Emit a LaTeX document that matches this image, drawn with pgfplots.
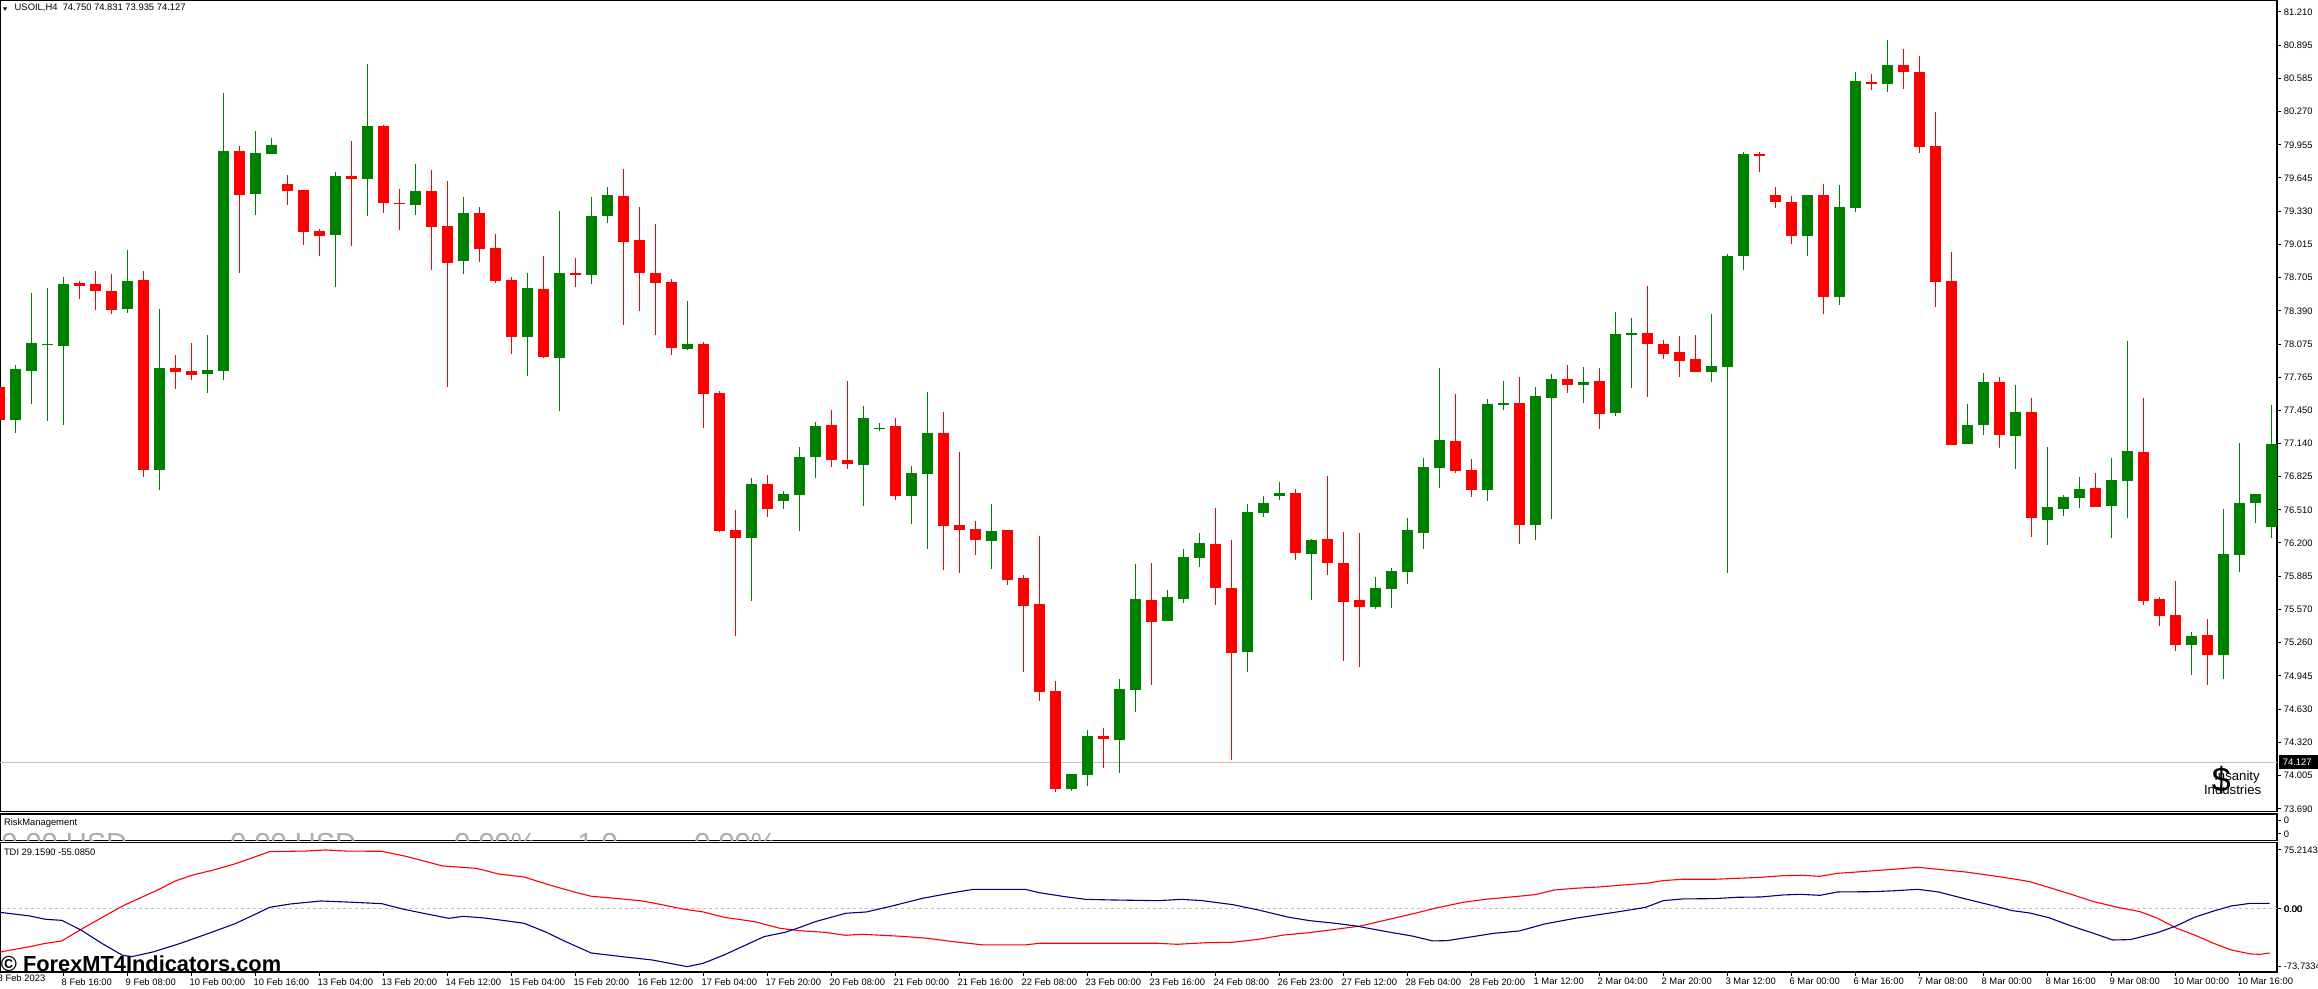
\documentclass[border=0pt]{standalone}
\usepackage{fontspec}
\setmainfont{Liberation Sans}
\usepackage{pgfplots}
\usepackage{pgfplotstable}
\pgfplotsset{compat=1.18}
\definecolor{upc}{RGB}{0,128,0}
\definecolor{dnc}{RGB}{255,0,0}
\definecolor{tdiblue}{RGB}{0,0,128}
\definecolor{lgray}{RGB}{192,192,192}
\definecolor{riskgray}{RGB}{172,172,172}
\newcommand\mtf{\fontsize{4.7pt}{5.6pt}\selectfont}

% i open high low close  (bullish candles)
\pgfplotstableread{
i o h l c
1 77.363 77.879 77.240 77.841
2 77.822 78.558 77.514 78.087
3 78.070 78.606 77.354 78.078
4 78.061 78.710 77.316 78.643
8 78.411 78.964 78.373 78.672
10 76.891 78.407 76.702 77.851
13 77.797 78.162 77.618 77.832
14 77.822 80.446 77.741 79.899
16 79.496 80.087 79.298 79.880
17 79.873 80.021 79.873 79.955
21 79.109 79.700 78.618 79.663
23 79.637 80.719 79.288 80.134
26 79.392 79.776 79.298 79.521
29 78.864 79.464 78.741 79.313
33 78.146 78.747 77.778 78.606
35 77.948 79.335 77.448 78.747
37 78.731 79.464 78.646 79.285
38 79.285 79.559 79.222 79.483
43 78.033 78.483 78.024 78.077
47 76.250 76.813 75.655 76.756
49 76.598 76.689 76.522 76.661
50 76.655 77.104 76.315 77.010
51 77.013 77.340 76.815 77.303
54 76.938 77.491 76.551 77.378
55 77.277 77.331 77.258 77.285
57 76.645 76.925 76.381 76.859
58 76.853 77.623 76.145 77.236
62 76.220 76.566 75.956 76.312
67 73.880 74.019 73.861 74.019
68 74.012 74.434 73.908 74.377
70 74.343 74.915 74.031 74.821
71 74.814 76.000 74.607 75.670
73 75.465 75.755 75.465 75.689
74 75.673 76.142 75.635 76.066
75 76.060 76.293 75.975 76.198
78 75.173 76.566 74.984 76.491
79 76.485 76.642 76.447 76.576
80 76.645 76.774 76.607 76.670
82 76.098 76.236 75.664 76.227
86 75.598 75.878 75.579 75.774
87 75.767 75.963 75.588 75.934
88 75.928 76.434 75.815 76.321
89 76.296 77.001 76.145 76.916
90 76.909 77.850 76.721 77.170
93 76.702 77.557 76.598 77.510
94 77.510 77.727 77.457 77.517
96 76.365 77.672 76.231 77.589
97 77.571 77.795 76.430 77.748
99 77.686 77.860 77.517 77.719
101 77.430 78.379 77.394 78.174
102 78.170 78.322 77.665 78.178
107 77.816 78.361 77.722 77.870
108 77.856 78.928 75.914 78.906
109 78.910 79.885 78.780 79.870
113 79.101 79.484 78.903 79.484
115 78.524 79.578 78.448 79.369
116 79.365 80.643 79.325 80.560
118 80.535 80.943 80.459 80.711
123 77.130 77.516 77.130 77.315
124 77.311 77.799 77.215 77.714
126 77.207 77.694 76.894 77.439
128 76.414 77.106 76.178 76.538
129 76.522 76.654 76.457 76.634
130 76.623 76.824 76.530 76.708
132 76.553 77.002 76.248 76.793
133 76.781 78.104 76.437 77.068
137 75.234 75.358 74.952 75.327
139 75.141 76.518 74.913 76.093
140 76.089 77.145 75.927 76.576
141 76.573 76.662 76.391 76.662
142 76.352 77.497 76.248 77.137
}\bull

% bearish candles
\pgfplotstableread{
i o h l c
0 77.671 77.750 77.300 77.363
5 78.653 78.672 78.505 78.628
6 78.643 78.766 78.401 78.580
7 78.577 78.738 78.363 78.401
9 78.681 78.766 76.825 76.891
11 77.851 77.973 77.656 77.816
12 77.822 78.087 77.741 77.788
15 79.899 79.946 78.750 79.486
18 79.587 79.672 79.392 79.524
19 79.531 79.531 79.015 79.137
20 79.144 79.162 78.911 79.100
22 79.663 79.993 79.005 79.637
24 80.134 80.144 79.317 79.411
25 79.408 79.540 79.156 79.402
27 79.521 79.719 78.779 79.184
28 79.191 79.615 77.675 78.845
30 79.313 79.370 78.854 78.977
31 78.983 79.115 78.656 78.675
32 78.681 78.709 77.986 78.146
34 78.596 78.911 77.948 77.958
36 78.742 78.889 78.618 78.734
39 79.474 79.729 78.260 79.043
40 79.059 79.370 78.392 78.750
41 78.747 79.210 78.165 78.656
42 78.662 78.690 77.977 78.043
44 78.077 78.099 77.288 77.608
45 77.615 77.634 76.306 76.316
46 76.322 76.511 75.325 76.250
48 76.756 76.841 76.448 76.523
52 77.312 77.454 76.919 76.985
53 76.982 77.727 76.900 76.947
56 77.303 77.378 76.607 76.645
59 77.236 77.435 75.947 76.362
60 76.368 77.060 75.918 76.324
61 76.331 76.406 76.088 76.230
63 76.321 76.321 75.805 75.852
64 75.868 75.900 74.984 75.607
65 75.623 76.264 74.711 74.795
66 74.802 74.899 73.852 73.880
69 74.377 74.453 74.078 74.352
72 75.661 76.013 74.862 75.456
76 76.189 76.529 75.617 75.777
77 75.774 76.227 74.154 75.164
81 76.670 76.708 76.041 76.107
83 76.236 76.831 75.900 76.013
84 76.013 76.302 75.088 75.645
85 75.661 76.293 75.031 75.598
91 77.161 77.605 76.862 76.881
92 76.887 76.991 76.636 76.702
95 77.520 77.765 76.192 76.371
98 77.748 77.881 77.610 77.693
100 77.730 77.852 77.278 77.419
103 78.181 78.625 77.582 78.080
104 78.076 78.116 77.932 77.986
105 78.004 78.152 77.769 77.921
106 77.935 78.163 77.809 77.816
110 79.867 79.885 79.704 79.859
111 79.484 79.560 79.365 79.412
112 79.419 79.473 79.026 79.101
114 79.484 79.589 78.365 78.524
117 80.549 80.625 80.477 80.541
119 80.711 80.859 80.488 80.639
120 80.642 80.793 79.880 79.934
121 79.950 80.263 78.429 78.658
122 78.673 78.948 77.122 77.122
125 77.714 77.768 77.099 77.215
127 77.439 77.567 76.255 76.437
131 76.720 76.863 76.538 76.538
134 77.060 77.571 75.613 75.652
135 75.667 75.687 75.416 75.509
136 75.516 75.845 75.176 75.234
138 75.327 75.485 74.855 75.141
}\bear

\begin{document}
\begin{tikzpicture}[x=1pt,y=1pt]
\useasboundingbox (0pt,0pt) rectangle (1159pt,494.5pt);
\pgfplotsset{
  mt/.style={scale only axis, width=1138.5pt, xmin=0.04375, xmax=142.3625,
    anchor=north west,
    axis line style={line width=0.6pt},
    ticklabel style={font=\mtf},
    tick align=outside, major tick length=2pt,
    tick style={line width=0.5pt, black},
    ytick pos=right, yticklabel pos=right,
    yticklabel style={anchor=west, inner sep=0pt, xshift=1.2pt},
    xtick=\empty},
  wick/.style={only marks, mark=*, mark size=0pt, mark options={draw=none, fill=none}, forget plot,
    error bars/.cd, y dir=both, y explicit, error mark=none,
    error bar style={draw=#1, line width=0.6pt, solid, line cap=butt}},
  body/.style={only marks, mark=*, mark size=0pt, mark options={draw=none, fill=none}, forget plot,
    error bars/.cd, y dir=both, y explicit, error mark=none,
    error bar style={draw=#1, line width=5.5pt, solid, line cap=butt}},
}
% ---------------- main price panel
\begin{axis}[mt, at={(0pt,494.25pt)}, height=405.5pt, ymin=73.6647, ymax=81.3185,
  ytick={81.210,80.895,80.585,80.270,79.955,79.645,79.330,79.015,78.705,78.390,78.075,77.765,77.450,77.140,76.825,76.510,76.200,75.885,75.570,75.260,74.945,74.630,74.320,74.005,73.690},
  yticklabels={81.210,80.895,80.585,80.270,79.955,79.645,79.330,79.015,78.705,78.390,78.075,77.765,77.450,77.140,76.825,76.510,76.200,75.885,75.570,75.260,74.945,74.630,74.320,74.005,73.690}]
\addplot[lgray, line width=0.5pt, forget plot] coordinates {(-1,74.127) (144,74.127)};
\addplot[wick=upc] table[x=i, y expr={(\thisrow{h}+\thisrow{l})/2}, y error expr={(\thisrow{h}-\thisrow{l})/2}] {\bull};
\addplot[body=upc] table[x=i, y expr={(\thisrow{o}+\thisrow{c})/2}, y error expr={max(abs(\thisrow{c}-\thisrow{o})/2,0.005)}] {\bull};
\addplot[wick=dnc] table[x=i, y expr={(\thisrow{h}+\thisrow{l})/2}, y error expr={(\thisrow{h}-\thisrow{l})/2}] {\bear};
\addplot[body=dnc] table[x=i, y expr={(\thisrow{o}+\thisrow{c})/2}, y error expr={max(abs(\thisrow{c}-\thisrow{o})/2,0.005)}] {\bear};
\end{axis}
% ---------------- risk management panel
\begin{axis}[mt, at={(0pt,87.5pt)}, height=13.35pt, ymin=0, ymax=1,
  ytick={0.251,0.749}, yticklabels={0,0}]
\end{axis}
% ---------------- TDI panel
\begin{axis}[mt, at={(0pt,73.15pt)}, height=64.65pt, ymin=-80.54, ymax=84.49,
  ytick={75.2143,0,-73.7334}, yticklabels={75.2143,{\rlap{0.00}\hspace{0.3pt}0.00},-73.7334},
  xtick={0,4,...,140}, xtick pos=left, xticklabel pos=left,
  xticklabel style={anchor=north west, inner sep=0pt, xshift=-1pt, yshift=-1pt},
  xticklabels={8 Feb 2023,8 Feb 16:00,9 Feb 08:00,10 Feb 00:00,10 Feb 16:00,13 Feb 04:00,13 Feb 20:00,14 Feb 12:00,15 Feb 04:00,15 Feb 20:00,16 Feb 12:00,17 Feb 04:00,17 Feb 20:00,20 Feb 08:00,21 Feb 00:00,21 Feb 16:00,22 Feb 08:00,23 Feb 00:00,23 Feb 16:00,24 Feb 08:00,26 Feb 23:00,27 Feb 12:00,28 Feb 04:00,28 Feb 20:00,1 Mar 12:00,2 Mar 04:00,2 Mar 20:00,3 Mar 12:00,6 Mar 00:00,6 Mar 16:00,7 Mar 08:00,8 Mar 00:00,8 Mar 16:00,9 Mar 08:00,10 Mar 00:00,10 Mar 16:00}]
\addplot[lgray, line width=0.5pt, dash pattern=on 1.5pt off 1.5pt, forget plot] coordinates {(-1,0) (144,0)};
\addplot[dnc, line width=0.55pt, forget plot] coordinates {
(0.04,-55.0) (1.9,-48.2) (2.9,-43.9) (3.9,-40.9) (5.4,-22.7) (7.7,3.7) (9.9,24.1) (11.0,35.6) (12.1,43.3) (13.4,49.7) (14.7,57.3) (15.9,65.8) (16.9,73.1) (19.1,73.8) (20.4,75.2) (21.7,73.8) (23.9,73.5) (25.5,66.7) (27.7,54.8) (29.8,51.8) (31.2,44.6) (32.8,40.7) (34.4,30.5) (36.0,21.2) (37.0,16.1) (38.3,13.9) (40.2,10.1) (41.5,5.0) (42.7,-0.1) (44.0,-3.9) (45.3,-10.7) (47.2,-16.3) (48.8,-24.8) (50.0,-27.8) (51.6,-29.9) (52.9,-33.7) (53.9,-32.4) (54.8,-33.3) (56.4,-35.0) (58.0,-37.5) (59.6,-41.8) (61.5,-46.0) (64.1,-46.0) (65.0,-43.9) (69.2,-43.9) (72.4,-43.9) (73.6,-45.2) (75.5,-43.1) (77.1,-42.6) (78.7,-38.8) (80.3,-33.3) (81.9,-30.3) (83.5,-26.1) (85.1,-21.8) (86.7,-14.1) (88.3,-6.5) (89.9,1.6) (91.5,8.4) (93.1,12.7) (94.7,15.6) (96.0,18.2) (97.2,24.1) (98.5,26.3) (100.0,28.0) (101.5,30.5) (102.9,32.6) (104.0,36.1) (105.2,37.8) (107.2,37.8) (108.6,39.0) (110.1,40.3) (111.5,42.4) (112.6,42.9) (113.8,41.6) (114.9,45.4) (116.1,47.1) (117.2,48.8) (118.6,50.9) (119.9,53.1) (121.2,50.5) (122.9,47.1) (124.1,43.7) (125.8,38.6) (126.9,34.8) (128.1,27.5) (129.5,18.6) (130.9,9.3) (132.4,2.0) (133.8,-3.5) (134.9,-12.0) (136.1,-24.8) (137.2,-33.3) (138.4,-43.9) (139.5,-52.4) (140.7,-57.5) (141.3,-58.0) (141.9,-56.3)};
\addplot[tdiblue, line width=0.55pt, forget plot] coordinates {
(0.04,-4.4) (1.9,-9.0) (2.9,-13.3) (3.9,-14.6) (5.1,-26.9) (6.4,-43.9) (7.7,-59.2) (8.3,-60.9) (9.6,-55.0) (11.2,-44.8) (12.8,-33.3) (14.7,-19.2) (15.9,-7.8) (16.9,2.0) (18.2,6.3) (20.1,10.1) (21.7,8.8) (23.9,6.7) (25.2,-0.1) (26.5,-5.6) (28.1,-12.0) (29.0,-9.5) (30.3,-11.6) (31.6,-15.0) (32.8,-18.4) (34.1,-29.0) (35.4,-41.8) (37.0,-56.3) (38.9,-60.9) (40.8,-65.2) (43.0,-73.7) (44.0,-69.4) (45.3,-58.8) (47.8,-35.4) (49.1,-29.9) (50.0,-23.9) (51.0,-16.3) (52.9,-5.6) (54.2,-3.9) (55.8,3.7) (57.7,13.5) (59.6,20.7) (60.9,25.0) (64.1,25.0) (65.0,20.7) (66.6,15.6) (67.9,12.2) (69.5,11.4) (72.4,10.5) (73.9,12.2) (75.2,10.5) (77.1,5.4) (78.7,-1.4) (80.6,-10.7) (81.9,-15.0) (83.5,-18.4) (84.8,-21.8) (86.7,-29.0) (88.3,-34.6) (89.6,-40.9) (90.5,-40.5) (92.1,-35.4) (93.4,-31.2) (95.0,-28.2) (96.6,-19.2) (98.5,-12.0) (100.0,-7.3) (101.5,-2.7) (102.9,2.0) (104.0,10.5) (105.2,12.7) (107.2,13.1) (108.6,14.8) (110.1,15.2) (111.5,17.8) (112.6,18.6) (113.8,17.3) (114.9,21.6) (117.2,22.0) (118.6,23.3) (119.9,25.0) (121.2,21.6) (122.9,12.7) (124.7,3.7) (125.8,-2.2) (126.9,-5.2) (128.1,-11.2) (129.5,-21.8) (130.9,-31.2) (132.1,-39.7) (133.2,-39.2) (134.9,-30.3) (136.1,-21.4) (137.2,-10.7) (138.4,-2.7) (139.5,3.7) (140.7,7.1) (141.9,7.1)};
\end{axis}
% ---------------- texts
\node[anchor=north west, inner sep=0pt, font=\mtf] at (-1.35pt,7.5pt) {8 Feb 2023};
\fill[black] (1.35pt,490.85pt) -- (3.65pt,490.85pt) -- (2.5pt,489.15pt) -- cycle;
\node[anchor=west, inner sep=0pt, font=\mtf] at (7.15pt,490.35pt) {USOIL,H4\ \ 74.750 74.831 73.935 74.127};
\node[anchor=west, inner sep=0pt, font=\mtf] at (1.8pt,83pt) {RiskManagement};
\node[anchor=west, inner sep=0pt, font=\mtf] at (1.8pt,68.4pt) {TDI 29.1590 -55.0850};
\begin{scope}
\clip (0pt,74.3pt) rectangle (1138.2pt,87.2pt);
\begin{scope}[every node/.style={anchor=base west, inner sep=0pt, text=riskgray, font=\fontsize{14.5pt}{16pt}\selectfont}]
\node at (0.5pt,67.5pt) {0.00 USD};
\node at (115pt,67.5pt) {0.00 USD};
\node at (227pt,67.5pt) {0.00\%};
\node at (288.5pt,67.5pt) {1.0};
\node at (347pt,67.5pt) {0.00\%};
\end{scope}
\end{scope}
\node[anchor=base west, inner sep=0pt, font=\bfseries\fontsize{10.9pt}{12pt}\selectfont] at (0.3pt,8.9pt) {© ForexMT4Indicators.com};
% current price tag
\fill[black] (1139.5pt,109.8pt) rectangle (1159pt,116.8pt);
\node[anchor=west, inner sep=0pt, text=white, font=\mtf] at (1141.2pt,113.3pt) {74.127};
% logo
\node[inner sep=0pt, font=\fontsize{6.6pt}{7pt}\selectfont] at (1118.5pt,106pt) {Insanity};
\node[inner sep=0pt, font=\fontsize{6.6pt}{7pt}\selectfont] at (1116.3pt,99.6pt) {Industries};
\node[inner sep=0pt, font=\fontsize{17pt}{18pt}\selectfont] at (1110.6pt,104.3pt) {\$};
\end{tikzpicture}
\end{document}
